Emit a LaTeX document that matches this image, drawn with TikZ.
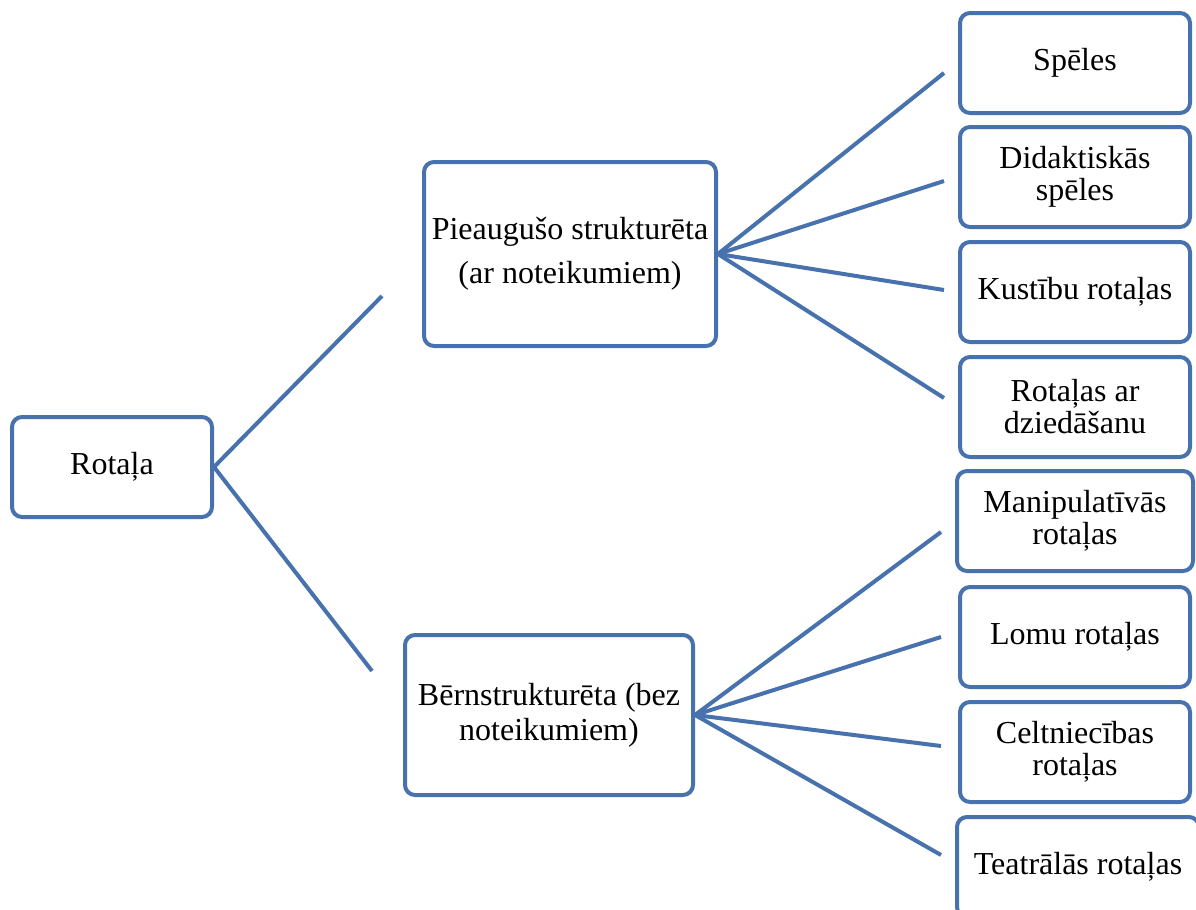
\documentclass[tikz,border=0pt]{standalone}
\usepackage{fontspec}
\setmainfont{Liberation Serif}
\usetikzlibrary{positioning}
\definecolor{smartblue}{RGB}{71,114,173}

\begin{document}
\begin{tikzpicture}[x=0.5pt, y=-0.5pt,
  box/.style={draw=smartblue, line width=2pt, rounded corners=5pt, fill=white,
    align=center, inner sep=2pt, font=\fontsize{16}{16}\selectfont},
  leaf/.style={box, minimum width=115pt, minimum height=50pt},
  link/.style={smartblue, line width=2pt}]
  \useasboundingbox (0,0) rectangle (1196,910);

  % Root
  \node[box, minimum width=100pt, minimum height=50pt] (root) at (112,467) {Rotaļa};

  % Middle level
  \node[box, minimum width=146pt, minimum height=92pt, font=\fontsize{16}{22}\selectfont]
    (adult) at (570,254) {Pieaugušo strukturēta\\(ar noteikumiem)};
  \node[box, minimum width=144pt, minimum height=80pt, font=\fontsize{16}{17.5}\selectfont]
    (kids) at (549,715) {Bērnstrukturēta (bez\\noteikumiem)};

  % Leaves
  \node[leaf] (speles)  at (1075,63)  {Spēles};
  \node[leaf] (didakt)  at (1075,177) {Didaktiskās\\spēles};
  \node[leaf] (kustibu) at (1075,292) {Kustību rotaļas};
  \node[leaf] (dzied)   at (1075,407) {Rotaļas ar\\dziedāšanu};
  \node[leaf, minimum width=118pt] (manip) at (1075,521) {Manipulatīvās\\rotaļas};
  \node[leaf] (lomu)    at (1075,637) {Lomu rotaļas};
  \node[leaf] (celtn)   at (1075,752) {Celtniecības\\rotaļas};
  \node[leaf, minimum width=121pt] (teatr) at (1078,867) {Teatrālās rotaļas};

  % Free ends of the connectors
  \coordinate (rU) at (382,296);
  \coordinate (rD) at (372,671);
  \coordinate (a1) at (944,73);
  \coordinate (a2) at (944,181);
  \coordinate (a3) at (944,290);
  \coordinate (a4) at (944,398);
  \coordinate (b1) at (941,532);
  \coordinate (b2) at (941,637);
  \coordinate (b3) at (941,746);
  \coordinate (b4) at (941,855);

  % Connectors
  \draw[link] (rU) -- (root.east) -- (rD);
  \foreach \e in {a1,a2,a3,a4}
    \draw[link] (adult.east) -- (\e);
  \foreach \e in {b1,b2,b3,b4}
    \draw[link] (kids.east) -- (\e);
\end{tikzpicture}
\end{document}
